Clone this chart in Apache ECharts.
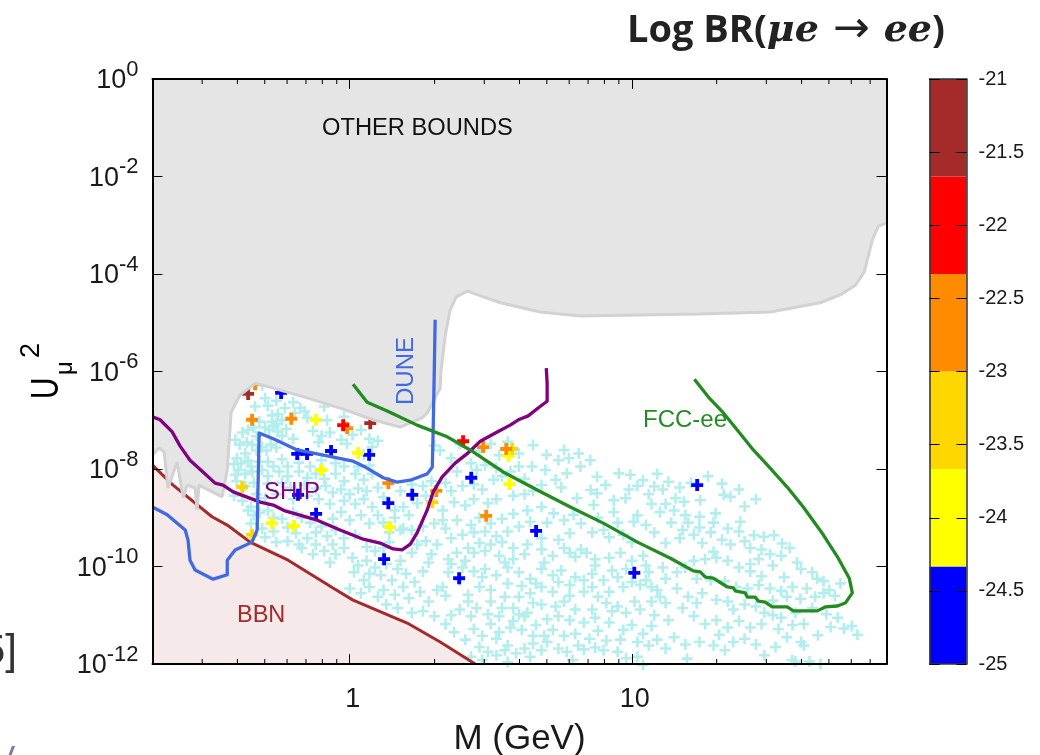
<!DOCTYPE html>
<html><head><meta charset="utf-8">
<style>html,body{margin:0;padding:0;background:#fff}#c{width:1040px;height:755px}</style>
<script src="https://cdn.jsdelivr.net/npm/echarts@6/dist/echarts.min.js"></script>
</head><body><div id="c"></div>
<script>
// All curves and points are stored as [log10 M(GeV), log10 U^2]
const xMajorTicks=[1,10];
const xMinorTicks=[0.3,0.4,0.5,0.6,0.7,0.8,0.9,2,3,4,5,6,7,8,9,20,30,40,50,60,70];
const yTicks=[1e-12,1e-10,1e-8,1e-6,1e-4,1e-2,1];
const barTicks=[-25,-24.5,-24,-23.5,-23,-22.5,-22,-21.5,-21];
const barEdges=[-25,-24.3333,-23.6667,-23,-22.3333,-21.6667,-21];
const barColors=['#0000ff','#ffff00','#ffd700','#ff8c00','#ff0000','#a52a2a'];

const otherBounds=[[-.699,-7.71],[-.676,-7.57],[-.658,-7.65],[-.644,-8.39],[-.612,-7.86],[-.590,-8.59],[-.576,-8.33],[-.548,-8.39],[-.541,-8.84],[-.534,-8.33],[-.452,-8.57],[-.434,-8.02],[-.420,-6.83],[-.388,-6.48],[-.335,-6.24],[-.271,-6.34],[-.151,-6.54],[-.034,-6.75],[.083,-6.99],[.179,-7.14],[.257,-6.95],[.275,-6.85],[.321,-6.34],[.324,-5.97],[.339,-5.25],[.356,-4.74],[.378,-4.47],[.417,-4.35],[.534,-4.59],[.676,-4.78],[.817,-4.86],[1.030,-4.84],[1.243,-4.82],[1.491,-4.78],[1.668,-4.59],[1.739,-4.43],[1.793,-4.23],[1.824,-3.96],[1.853,-3.30],[1.874,-3.02],[1.903,-2.95]];
const bbn=[[-.699,-7.92],[-.626,-8.33],[-.488,-8.98],[-.434,-9.15],[-.353,-9.50],[-.218,-9.87],[-.059,-10.44],[.012,-10.69],[.204,-11.16],[.321,-11.55],[.445,-12]];
const ship=[[-.699,-6.93],[-.672,-6.99],[-.629,-7.24],[-.601,-7.53],[-.566,-7.82],[-.520,-8.06],[-.477,-8.29],[-.449,-8.33],[-.413,-8.47],[-.317,-8.68],[-.271,-8.74],[-.229,-8.86],[-.115,-9.05],[-.034,-9.25],[.048,-9.44],[.108,-9.52],[.154,-9.64],[.186,-9.66],[.215,-9.54],[.239,-9.31],[.275,-8.84],[.296,-8.47],[.328,-8.16],[.374,-7.88],[.420,-7.67],[.463,-7.43],[.523,-7.24],[.569,-7.10],[.598,-6.99],[.633,-6.91],[.668,-6.75],[.700,-6.61],[.700,-6.24],[.697,-5.93]];
const dune=[[-.699,-8.78],[-.647,-8.94],[-.583,-9.25],[-.573,-9.46],[-.566,-9.87],[-.548,-10.07],[-.484,-10.26],[-.434,-10.17],[-.434,-9.87],[-.406,-9.66],[-.346,-9.50],[-.328,-9.25],[-.321,-7.26],[-.271,-7.38],[-.186,-7.61],[-.080,-7.73],[.012,-7.84],[.055,-7.96],[.119,-8.18],[.168,-8.27],[.215,-8.23],[.275,-8.10],[.293,-7.96],[.296,-7.20],[.300,-5.97],[.303,-4.94]];
const fcc=[[.012,-6.26],[.062,-6.63],[.133,-6.81],[.239,-7.10],[.346,-7.34],[.427,-7.61],[.544,-8.06],[.665,-8.43],[.782,-8.78],[.899,-9.11],[1.020,-9.50],[1.137,-9.83],[1.218,-10.09],[1.243,-10.11],[1.261,-10.22],[1.289,-10.24],[1.339,-10.42],[1.360,-10.44],[1.367,-10.50],[1.402,-10.54],[1.410,-10.63],[1.438,-10.63],[1.449,-10.71],[1.473,-10.73],[1.498,-10.83],[1.551,-10.83],[1.573,-10.91],[1.658,-10.91],[1.686,-10.83],[1.729,-10.81],[1.757,-10.75],[1.782,-10.54],[1.771,-10.24],[1.732,-9.83],[1.679,-9.35],[1.608,-8.78],[1.551,-8.37],[1.481,-7.92],[1.431,-7.61],[1.374,-7.20],[1.325,-6.85],[1.271,-6.52],[1.222,-6.16]];

const ptsBlue=[[-.243,-6.44],[-.186,-7.69],[-.151,-7.69],[-.066,-7.63],[.069,-7.71],[.137,-8.70],[.222,-8.53],[-.119,-8.92],[.122,-9.85],[.388,-10.24],[.431,-8.18],[.661,-9.27],[1.009,-10.13],[1.232,-8.33],[-.183,-8.53]];
const ptsYellow=[[-.119,-6.99],[-.101,-8.02],[.030,-7.67],[-.275,-9.11],[-.197,-9.17],[.143,-9.19],[.566,-8.31],[.563,-7.73]];
const ptsGold=[[-.381,-8.37],[.293,-8.68],[.576,-7.59],[-.346,-9.35]];
const ptsOrange=[[-.346,-6.99],[-.207,-6.97],[-.009,-7.16],[.137,-8.29],[.307,-8.45],[.473,-7.55],[.555,-7.59],[.484,-8.96],[-.335,-6.26]];
const ptsRed=[[-.023,-7.10],[.402,-7.43]];
const ptsBrown=[[-.360,-6.46],[.073,-7.06]];

const ptsBelow=[
[-.31,-6.28],[-.30,-6.55],[-.335,-6.72],[-.29,-6.7],[-.26,-6.6],[-.275,-6.9],[-.255,-6.87],[-.32,-7.03],[-.275,-7.03],[-.26,-7.07],[-.20,-6.63],[-.175,-6.75],[-.195,-6.85],[-.16,-6.82],[-.15,-6.95],[-.08,-7.0],[-.09,-6.72],[-.02,-6.93],[-.23,-6.75],[-.24,-7.0],
[-.405,-7.4],[-.38,-7.25],[-.36,-7.2],[-.34,-7.15],[-.39,-7.5],[-.365,-7.45],[-.345,-7.5],[-.33,-7.33],[-.30,-7.15],[-.285,-7.2],[-.27,-7.12],[-.255,-7.23],[-.24,-7.32],[-.225,-7.18],[-.33,-7.62],[-.31,-7.55],[-.295,-7.62],[-.28,-7.5],[-.26,-7.56],[-.37,-7.68],[-.40,-7.78],[-.385,-7.88],[-.36,-7.83],[-.41,-7.9],[-.35,-7.95],[-.32,-7.85],[-.29,-7.85],[-.27,-7.95],[-.24,-7.8],[-.20,-7.38],[-.13,-7.22],[-.10,-7.32],[-.11,-7.45],[-.07,-7.25],[-.03,-7.4],[.01,-7.3],[.04,-7.2],[.07,-7.38],[-.01,-7.48],[.08,-7.55],[.05,-7.7],[.10,-7.42],[-.22,-7.95],[-.18,-7.87],[-.14,-7.95],[-.10,-7.82],[-.05,-7.88],[-.02,-7.95],[.03,-7.95],[.07,-7.93],
[-.395,-8.02],[-.37,-8.1],[-.345,-8.05],[-.31,-8.02],[-.29,-8.15],[-.25,-8.05],[-.22,-8.15],[-.18,-8.05],[-.15,-8.18],[-.12,-8.1],[-.09,-8.2],[-.05,-8.1],[-.02,-8.25],[.02,-8.1],[.05,-8.22],[.08,-8.1],[-.40,-8.25],[-.37,-8.35],[-.34,-8.28],[-.29,-8.3],[-.24,-8.28],[-.21,-8.38],[-.16,-8.33],[-.12,-8.4],[-.085,-8.35],[-.06,-8.48],[-.03,-8.42],[.0,-8.52],[.03,-8.4],[.06,-8.45],[.10,-8.38],
[-.33,-8.52],[-.30,-8.6],[-.26,-8.52],[-.20,-8.62],[-.15,-8.55],[-.11,-8.62],[-.07,-8.72],[-.02,-8.65],[.02,-8.72],[.05,-8.62],[.08,-8.78],[.12,-8.58],[-.35,-8.78],[-.34,-8.95],[-.29,-8.85],[-.27,-9.0],[-.24,-9.02],[-.20,-8.88],[-.17,-9.0],[-.14,-9.1],[-.10,-9.18],[-.06,-9.02],[-.03,-8.88],[.0,-9.05],[.04,-8.95],[.07,-9.12],[.10,-8.95],[.12,-9.1],[.16,-9.0],
[-.31,-9.22],[-.27,-9.28],[-.22,-9.2],[-.19,-9.32],[-.15,-9.42],[-.12,-9.3],[-.08,-9.38],[-.05,-9.25],[-.02,-9.42],[.02,-9.35],[.06,-9.6],[.09,-9.68],[.12,-9.62],[.14,-9.5],[.22,-9.72],[.18,-9.88],[-.17,-9.62],[-.13,-9.75],[-.09,-9.68],[-.07,-9.92],[-.05,-9.75],[-.02,-9.62],[.01,-9.82],[.03,-9.98],[.06,-9.88],[.09,-10.02],[.11,-10.18],[.07,-10.15],[.015,-10.12],[.05,-10.28],[.13,-9.95],[.17,-10.05],[.15,-10.28],[.20,-10.15],[.23,-10.32],[.26,-10.1],[.28,-9.92],
[.0,-10.45],[.04,-10.55],[.07,-10.42],[.10,-10.62],[.12,-10.48],[.16,-10.58],[.19,-10.42],[.21,-10.65],[.25,-10.52],[.28,-10.72],[.31,-10.48],[.34,-10.6],[.13,-10.78],[.17,-10.85],[.22,-10.95],[.26,-10.92],[.30,-11.02],[.34,-11.18],[.36,-11.0],[.39,-10.88],[.42,-10.72],[.43,-11.02],[.37,-11.35],[.41,-11.5],[.44,-11.28],[.47,-11.42],[.50,-11.18],[.53,-11.35],[.56,-11.62],[.46,-11.65],[.49,-11.75],[.52,-11.82],[.55,-11.72],[.59,-11.78],[.62,-11.68],[.65,-11.58],[.68,-11.72],[.43,-11.85],[.47,-11.92],[.56,-11.96],[.64,-11.85],[.70,-11.55],[.74,-11.68],[.77,-11.75],[.81,-11.62],
[.32,-7.62],[.36,-7.78],[.30,-7.52],[.39,-7.48],[.43,-7.88],[.46,-7.62],[.50,-7.48],[.53,-7.72],[.56,-7.44],[.48,-7.92],[.52,-7.98],[.45,-8.02],[.38,-8.05],[.34,-8.28],[.36,-8.45],[.40,-8.35],[.44,-8.32],[.47,-8.42],[.51,-8.22],[.54,-8.15],[.57,-8.05],[.60,-7.95],[.62,-8.2],[.65,-7.51],[.60,-7.68],[.646,-7.95],[.694,-8.02],[.698,-7.71],[.74,-7.82],[.76,-7.61],[.777,-7.78],[.812,-7.68],[.853,-7.82],[.818,-7.95],[.77,-8.09],[.877,-8.16],[.907,-8.33],[.854,-8.43],[.877,-8.5],[.806,-8.6],[.73,-8.22],[.68,-8.33],[.75,-8.38],[.65,-8.45],[.62,-8.52],[.58,-8.55],[.52,-8.62],[.49,-8.7],[.44,-8.62],[.41,-8.75],[.37,-8.68],[.33,-8.85],
[.936,-8.64],[.978,-8.6],[.865,-8.74],[.936,-8.88],[.794,-8.94],[.723,-8.91],[1.007,-9.08],[.68,-8.78],[.63,-8.85],[.58,-8.92],[.54,-9.02],[.50,-9.12],[.46,-9.0],[.43,-9.15],[.38,-9.05],[.34,-9.22],[.36,-9.42],[.40,-9.35],[.44,-9.3],[.48,-9.28],[.52,-9.38],[.56,-9.28],[.60,-9.18],[.64,-9.08],[.70,-9.1],[.76,-9.05],[.82,-9.12],[.88,-9.0],[.95,-9.1],[.86,-9.3],[.90,-9.25],[.92,-9.4],[.97,-9.35],[1.0,-9.5],[.78,-9.32],[.74,-9.45],[.68,-9.42],[.63,-9.55],[.58,-9.62],[.54,-9.5],[.50,-9.55],[.46,-9.52],[.42,-9.62],[.38,-9.72],[.44,-9.72],[.48,-9.68],[.53,-9.78],[.58,-9.85],[.62,-9.75],[.68,-9.65],[.72,-9.78],[.76,-9.62],[.78,-9.72],[.80,-9.8],[.84,-9.72],[.82,-9.65],[.87,-9.85],[.92,-9.82],[.96,-9.72],[1.0,-9.88],[1.04,-9.78],[1.05,-9.98],
[.36,-9.95],[.40,-10.02],[.44,-10.1],[.48,-10.05],[.52,-10.18],[.56,-10.02],[.60,-10.12],[.64,-10.25],[.68,-10.05],[.72,-10.18],[.74,-10.32],[.78,-10.38],[.80,-10.22],[.83,-10.28],[.86,-10.15],[.90,-10.28],[.93,-10.08],[.95,-10.22],[1.0,-10.32],[1.03,-10.38],[1.05,-10.28],[1.07,-10.42],[1.09,-10.48],[1.12,-10.25],[.97,-10.42],[.92,-10.52],[.88,-10.62],[.83,-10.52],[.86,-10.42],[.78,-10.6],[.72,-10.52],[.68,-10.42],[.64,-10.55],[.60,-10.62],[.56,-10.35],[.50,-10.48],[.46,-10.42],[.42,-10.58],[.45,-10.85],[.50,-10.72],[.55,-10.62],[.58,-10.85],[.63,-10.95],[.68,-10.78],[.73,-10.82],[.80,-10.88],[.86,-10.88],[.91,-10.75],[.95,-10.82],[1.01,-10.72],[1.03,-10.88],[1.07,-10.72],[1.10,-10.62],
[.53,-11.02],[.58,-11.12],[.62,-11.02],[.66,-11.2],[.70,-11.08],[.74,-11.02],[.78,-11.1],[.83,-11.15],[.87,-11.05],[.92,-11.15],[.97,-11.3],[1.0,-11.2],[1.04,-11.38],[1.07,-11.22],[.72,-11.3],[.76,-11.42],[.80,-11.38],[.85,-11.48],[.88,-11.32],[.91,-11.52],[.96,-11.5],[1.02,-11.55],[1.06,-11.62],[1.09,-11.5],[.83,-11.7],[.87,-11.66],[.90,-11.72],[.95,-11.75],[.98,-11.88],[1.02,-11.85],[1.04,-12.02],[.79,-11.92],
[.954,-8.09],[.995,-8.12],[1.04,-8.23],[1.08,-8.36],[1.13,-8.26],[1.155,-8.6],[1.185,-8.67],[1.243,-8.64],[1.326,-8.53],[1.35,-8.57],[1.40,-8.77],[1.297,-8.91],[1.385,-9.08],[1.433,-9.36],[1.468,-9.39],[1.504,-9.36],[1.533,-9.53],[1.586,-9.92],[1.02,-8.35],[1.06,-8.52],[.99,-8.42],[1.12,-8.72],[1.10,-8.88],[1.15,-8.85],[1.19,-8.95],[1.24,-8.98],[1.14,-9.1],[1.18,-9.25],[1.20,-9.1],[1.22,-9.35],[1.17,-9.42],[1.28,-9.3],[1.32,-9.45],[1.35,-9.55],[1.38,-9.28],[1.42,-9.62],[1.40,-9.48],[1.29,-9.7],[1.25,-9.52],[1.12,-9.52],[1.08,-9.3],[1.05,-9.15],[1.02,-8.95],[1.07,-8.72],
[1.22,-9.88],[1.26,-9.85],[1.30,-9.82],[1.34,-9.88],[1.38,-10.02],[1.42,-9.95],[1.45,-9.85],[1.42,-10.1],[1.46,-10.2],[1.50,-9.98],[1.54,-10.22],[1.16,-10.12],[1.19,-10.02],[1.23,-10.25],[1.28,-10.28],[1.33,-10.3],[1.37,-10.42],[1.41,-10.45],[1.45,-10.38],[1.49,-10.45],[1.53,-10.5],[1.57,-10.42],[1.62,-10.45],[1.657,-10.25],[1.68,-10.55],[1.598,-10.66],[1.65,-10.62],[1.70,-10.48],[1.72,-10.6],[1.55,-10.62],
[1.20,-10.62],[1.23,-10.75],[1.25,-10.55],[1.30,-10.68],[1.34,-10.72],[1.36,-10.88],[1.40,-10.78],[1.44,-10.82],[1.47,-10.95],[1.50,-11.0],[1.53,-11.05],[1.22,-11.02],[1.26,-11.18],[1.30,-11.1],[1.34,-11.25],[1.38,-11.12],[1.42,-11.25],[1.46,-11.18],[1.52,-11.28],[1.57,-11.2],[1.61,-11.18],[1.66,-11.41],[1.705,-11.24],[1.752,-11.27],[1.61,-11.62],[1.51,-11.65],[1.569,-11.92],[1.669,-12],[1.196,-11.89],[1.19,-11.6],[1.24,-11.55],[1.31,-11.4],[1.36,-11.55],[1.40,-11.48],[1.44,-11.6],[1.33,-11.72],[1.29,-11.62],[1.47,-11.82],[1.58,-11.95],[1.63,-11.95],[1.55,-11.45],[1.60,-11.55],
[.35,-10.12],[.39,-10.28],[.33,-10.42],[.47,-10.22],[.61,-10.4],[.66,-10.35],[.75,-10.08],[.87,-9.98],[.98,-10.05],[1.06,-10.12],[1.11,-10.02],[.69,-9.92],[.55,-9.92],[.41,-9.88],[.31,-9.55],[.29,-9.75],[.35,-9.85],[.27,-9.48],[.24,-9.55],[.33,-9.05],[.30,-9.12],[.26,-9.18],[.22,-9.25],[.19,-9.22],
[.61,-11.3],[.65,-11.42],[.57,-11.25],[.52,-11.48],[.69,-11.42],[.93,-10.92],[.98,-10.95],[.76,-10.72],[.65,-10.75],[.60,-10.98],[.49,-10.98],[.54,-10.85],[1.12,-10.75],[1.08,-11.0],[1.13,-11.1],[1.15,-11.45],[1.12,-11.68],[1.16,-10.45],[1.18,-10.85],
[1.09,-8.1],[1.17,-8.38],[1.21,-8.28],[1.11,-8.42],[1.27,-8.15],[1.32,-8.3],[1.38,-8.42],[1.44,-8.62],[1.24,-9.2],[1.29,-9.1],[1.34,-9.22],[1.46,-9.65],[1.49,-9.75],[1.53,-9.78],[1.56,-9.62],[1.60,-10.05],[1.64,-10.12],[1.68,-10.3],[1.74,-10.35],[1.50,-10.7],[1.58,-10.95],[1.64,-10.85],[1.69,-10.98],[1.73,-11.05],[1.78,-11.22],[1.80,-11.4],
[-.41,-8.55],[-.38,-8.65],[-.405,-8.12],[-.36,-8.85],[-.32,-8.9],[-.35,-9.12],[-.30,-9.4],[-.26,-9.5],[-.22,-9.48],[-.18,-9.55],[-.12,-9.55],[-.06,-9.55],[.14,-9.3],[.18,-9.25],[.16,-8.85],[.19,-8.78],[.21,-8.95],[.24,-8.7],[.27,-8.55],[.18,-8.45],[.22,-8.32],[.26,-8.35],[.29,-8.25]
];

const toReal=p=>[Math.pow(10,p[0]),Math.pow(10,p[1])];
const PLUS_THIN='path://M3.85 0H6.15V3.85H10V6.15H6.15V10H3.85V6.15H0V3.85H3.85Z';
const PLUS_BOLD='path://M3.4 0H6.6V3.4H10V6.6H6.6V10H3.4V6.6H0V3.4H3.4Z';
const F='"Liberation Sans",Arial,sans-serif';
const ink='#1a1a1a';
const pointSeries=(name,pts,color)=>({name,type:'scatter',data:pts.map(toReal),symbol:PLUS_BOLD,symbolSize:12,itemStyle:{color,opacity:1},clip:false,z:2,silent:true});
const curve=(name,pts,color,width)=>({name,type:'line',data:pts.map(toReal),showSymbol:false,symbol:'none',smooth:false,lineStyle:{color,width,join:'round'},z:6,silent:true});

const minorTickSeries={type:'custom',data:[0],clip:false,z:12,silent:true,
 renderItem:(p,api)=>{const ch=[];const lo=1e-12,hi=1;
  xMinorTicks.forEach(m=>{const a=api.coord([m,lo]),b=api.coord([m,hi]);
   ch.push({type:'line',shape:{x1:a[0],y1:a[1],x2:a[0],y2:a[1]-5},style:{stroke:'#000',lineWidth:1}});
   ch.push({type:'line',shape:{x1:b[0],y1:b[1],x2:b[0],y2:b[1]+5},style:{stroke:'#000',lineWidth:1}});});
  return {type:'group',children:ch};}};
const barSeries={type:'custom',xAxisIndex:2,yAxisIndex:2,data:barColors.map((c,i)=>[barEdges[i],barEdges[i+1]]),clip:true,z:2,silent:true,
 encode:{y:[0,1]},
 renderItem:(p,api)=>{const lo=api.coord([0,api.value(0)]),hi=api.coord([1,api.value(1)]);
  return {type:'rect',shape:{x:lo[0],y:hi[1],width:hi[0]-lo[0],height:lo[1]-hi[1]},style:{fill:barColors[p.dataIndex]}};}};

const option={
 animation:false,backgroundColor:'#fff',
 grid:[{left:152.5,top:79,width:734,height:585,containLabel:false,outerBoundsMode:'none'},{left:929.5,top:79,width:37,height:585,outerBoundsMode:'none'}],
 xAxis:[
  {type:'log',logBase:10,min:0.2,max:80,gridIndex:0,z:10,position:'bottom',
   axisLine:{show:true,onZero:false,lineStyle:{color:'#000',width:2}},
   axisTick:{show:true,inside:true,length:10,customValues:xMajorTicks,lineStyle:{color:'#000',width:1}},
   axisLabel:{show:true,customValues:xMajorTicks,margin:22,fontFamily:F,fontSize:27,color:ink,padding:[0,0,0,6],formatter:v=>String(Math.round(v))},
   minorTick:{show:false},splitLine:{show:false},
   name:'M (GeV)',nameLocation:'middle',nameGap:58,nameTextStyle:{fontFamily:F,fontSize:35,color:ink}},
  {type:'log',logBase:10,min:0.2,max:80,gridIndex:0,z:10,position:'top',
   axisLine:{show:true,onZero:false,lineStyle:{color:'#000',width:2}},
   axisTick:{show:true,inside:true,length:10,customValues:xMajorTicks,lineStyle:{color:'#000',width:1}},
   axisLabel:{show:false},splitLine:{show:false}},
  {type:'value',min:0,max:1,gridIndex:1,z:10,position:'bottom',
   axisLine:{show:true,onZero:false,lineStyle:{color:'#333',width:1.5}},axisTick:{show:false},axisLabel:{show:false},splitLine:{show:false}},
  {type:'value',min:0,max:1,gridIndex:1,z:10,position:'top',
   axisLine:{show:true,onZero:false,lineStyle:{color:'#333',width:1.5}},axisTick:{show:false},axisLabel:{show:false},splitLine:{show:false}}
 ],
 yAxis:[
  {type:'log',logBase:10,min:1e-12,max:1,gridIndex:0,z:10,position:'left',
   axisLine:{show:true,onZero:false,lineStyle:{color:'#000',width:2}},
   axisTick:{show:true,inside:true,length:10,customValues:yTicks,lineStyle:{color:'#000',width:1}},
   axisLabel:{show:true,customValues:yTicks,margin:14,
    formatter:v=>'{b|10}{s|'+Math.round(Math.log10(v))+'}',
    rich:{b:{fontFamily:F,fontSize:27,lineHeight:26,color:ink,padding:[9,0,5,0]},
          s:{fontFamily:F,fontSize:22,lineHeight:21,color:ink,padding:[0,0,19,0]}}},
   splitLine:{show:false}},
  {type:'log',logBase:10,min:1e-12,max:1,gridIndex:0,z:10,position:'right',
   axisLine:{show:true,onZero:false,lineStyle:{color:'#000',width:2}},
   axisTick:{show:true,inside:true,length:10,customValues:yTicks,lineStyle:{color:'#000',width:1}},
   axisLabel:{show:false},splitLine:{show:false}},
  {type:'value',min:-25,max:-21,interval:0.5,gridIndex:1,z:10,position:'right',
   axisLine:{show:true,onZero:false,lineStyle:{color:'#333',width:1.5}},
   axisTick:{show:true,inside:true,length:10,lineStyle:{color:'#000',width:1}},
   axisLabel:{show:true,margin:12,fontFamily:F,fontSize:20,color:ink,formatter:v=>String(v)},splitLine:{show:false}},
  {type:'value',min:-25,max:-21,interval:0.5,gridIndex:1,z:10,position:'left',
   axisLine:{show:true,onZero:false,lineStyle:{color:'#333',width:1.5}},
   axisTick:{show:true,inside:true,length:10,lineStyle:{color:'#000',width:1}},
   axisLabel:{show:false},splitLine:{show:false}}
 ],
 series:[
  {name:'below range',type:'scatter',data:ptsBelow.map(toReal),symbol:PLUS_THIN,symbolSize:11,itemStyle:{color:'#b2eeee',opacity:1},clip:false,z:1,silent:true},
  pointSeries('-24.5',ptsBlue,'#0000ff'),
  pointSeries('-24',ptsYellow,'#ffff00'),
  pointSeries('-23.5',ptsGold,'#ffd700'),
  pointSeries('-22.5',ptsOrange,'#ff8c00'),
  pointSeries('-22',ptsRed,'#ff0000'),
  pointSeries('-21.5',ptsBrown,'#a52a2a'),
  {name:'BBN',type:'line',data:bbn.map(toReal),showSymbol:false,symbol:'none',lineStyle:{color:'#a52a2a',width:3},areaStyle:{color:'#f5e9e9',opacity:1,origin:'start'},z:4,silent:true},
  {name:'OTHER BOUNDS',type:'line',data:otherBounds.map(toReal),showSymbol:false,symbol:'none',lineStyle:{color:'#d2d2d2',width:3},areaStyle:{color:'#e5e5e5',opacity:1,origin:'end'},z:5,silent:true},
  curve('SHIP',ship,'#800080',3.3),
  curve('DUNE',dune,'#4169e1',3.3),
  curve('FCC-ee',fcc,'#228b22',3.3),
  minorTickSeries,
  barSeries
 ],
 graphic:[
  {type:'text',left:322,top:116,z:20,style:{text:'OTHER BOUNDS',font:'23.7px '+F,fill:'#111'}},
  {type:'text',x:394,y:405,rotation:Math.PI/2,z:20,style:{text:'DUNE',font:'24px '+F,fill:'#4169e1'}},
  {type:'text',left:264,top:480,z:20,style:{text:'SHIP',font:'24px '+F,fill:'#800080'}},
  {type:'text',left:237,top:604,z:20,style:{text:'BBN',font:'23.5px '+F,fill:'#a52a2a'}},
  {type:'text',left:643,top:408,z:20,style:{text:'FCC-ee',font:'24px '+F,fill:'#228b22'}},
  {type:'text',x:29,y:399,rotation:Math.PI/2,scaleX:0.78,z:20,style:{text:'U',font:'38px '+F,fill:'#000'}},
  {type:'text',x:53,y:375,rotation:Math.PI/2,z:20,style:{text:'μ',font:'24px '+F,fill:'#000'}},
  {type:'text',x:18,y:358,rotation:Math.PI/2,z:20,style:{text:'2',font:'27px '+F,fill:'#000'}},
  {type:'text',x:17,y:652,z:20,style:{text:'5]',font:'42px '+F,fill:'#333',textAlign:'right',textVerticalAlign:'middle'}},
  {type:'text',x:9,y:745,z:20,style:{text:'/',font:'italic bold 26px '+F,fill:'#7a78a8',textAlign:'center'}},
  {type:'text',left:627,top:9,z:20,style:{
    text:'{a|Log BR(}{m|μe}{r| → }{m|ee}{a|)}',
    rich:{a:{font:'bold 38px "Open Sans",sans-serif',fill:'#222'},
          m:{font:'italic bold 38px "DejaVu Serif",serif',fill:'#222'},
          r:{font:'44px "DejaVu Sans",sans-serif',fill:'#222'}}}}
 ]
};
const chart=echarts.init(document.getElementById('c'),null,{renderer:'canvas',width:1040,height:755});
chart.setOption(option);
</script></body></html>
